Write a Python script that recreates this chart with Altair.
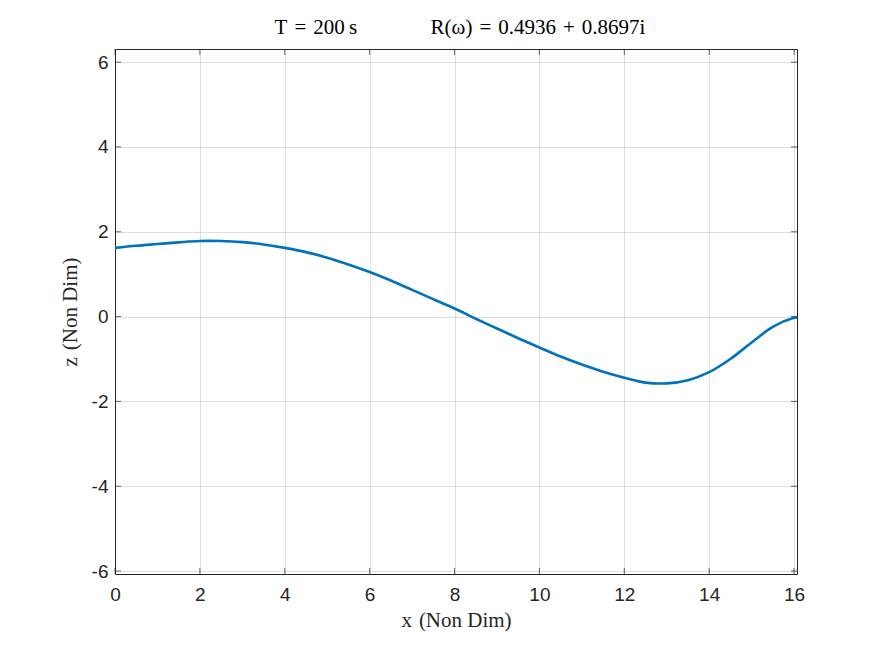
import altair as alt
import pandas as pd

# curve
x_vals = [0, 0.5, 1, 1.5, 2, 2.5, 3, 3.5, 4, 4.5, 5, 5.5, 6, 6.5, 7, 7.5, 8, 8.5, 9, 9.5,
          10, 10.5, 11, 11.5, 12, 12.5, 13, 13.5, 14, 14.5, 15, 15.5, 16, 16.07]
z_vals = [1.62, 1.67, 1.71, 1.75, 1.782, 1.781, 1.755, 1.70, 1.62, 1.52, 1.39, 1.23, 1.05,
          0.85, 0.63, 0.41, 0.19, -0.05, -0.28, -0.51, -0.73, -0.94, -1.13, -1.30, -1.44,
          -1.557, -1.575, -1.50, -1.31, -1.00, -0.61, -0.24, -0.03, -0.02]
x_ticks = [0, 2, 4, 6, 8, 10, 12, 14, 16]
y_ticks = [-6, -4, -2, 0, 2, 4, 6]
x_domain = [0, 16.07]
y_domain = [-6.07, 6.31]
title_text = ("T\u2004=\u2004200\u2009s\u2003\u2003\u2003\u2002"
              "R(\u03c9)\u2004=\u20040.4936\u2004+\u20040.8697i")

W, H = 682, 525
TICK = 6

df = pd.DataFrame({"x": x_vals, "z": z_vals})
xt = pd.DataFrame({"x": x_ticks})
yt = pd.DataFrame({"z": y_ticks})

xscale = alt.Scale(domain=x_domain, nice=False, zero=False)
yscale = alt.Scale(domain=y_domain, nice=False, zero=False)

xaxis = alt.Axis(values=x_ticks, title="x\u2004(Non Dim)", labelExpr="'' + datum.value",
                 grid=True, ticks=False, domain=False, labelPadding=11, titlePadding=5,
                 labelFlush=False)
yaxis = alt.Axis(values=y_ticks, title="z\u2004(Non Dim)", labelExpr="'' + datum.value",
                 grid=True, ticks=False, domain=False, labelPadding=7, titlePadding=11,
                 labelFlush=False)

line = alt.Chart(df).mark_line(color="#0072BD", strokeWidth=2.6, interpolate="catmull-rom").encode(
    x=alt.X("x:Q", scale=xscale, axis=xaxis),
    y=alt.Y("z:Q", scale=yscale, axis=yaxis),
)

tick_style = dict(color="#262626", thickness=1, size=TICK)
xb = alt.Chart(xt).mark_tick(**tick_style).encode(
    x=alt.X("x:Q", scale=xscale, axis=xaxis), y=alt.value(H - TICK / 2))
xtop = alt.Chart(xt).mark_tick(**tick_style).encode(
    x=alt.X("x:Q", scale=xscale, axis=xaxis), y=alt.value(TICK / 2))
yl = alt.Chart(yt).mark_tick(**tick_style).encode(
    y=alt.Y("z:Q", scale=yscale, axis=yaxis), x=alt.value(TICK / 2))
yr = alt.Chart(yt).mark_tick(**tick_style).encode(
    y=alt.Y("z:Q", scale=yscale, axis=yaxis), x=alt.value(W - TICK / 2))

chart = alt.layer(line, xb, xtop, yl, yr).properties(
    width=W, height=H,
    title=alt.TitleParams(title_text, font="Liberation Serif", fontSize=21,
                          fontWeight="normal", color="#000000", anchor="middle", offset=11,
                          dx=4),
    autosize=alt.AutoSizeParams(type="none"),
    padding={"left": 115, "top": 49, "right": 86, "bottom": 73},
    background="white",
).configure_view(
    stroke="#262626", strokeWidth=1
).configure_axis(
    labelFont="Liberation Sans", labelFontSize=19, labelColor="#262626",
    titleFont="Liberation Serif", titleFontSize=21, titleFontWeight="normal",
    titleColor="#262626", gridColor="#262626", gridOpacity=0.15, gridWidth=1,
)

chart.save("out.html", embed_options={"renderer": "svg", "actions": False})
